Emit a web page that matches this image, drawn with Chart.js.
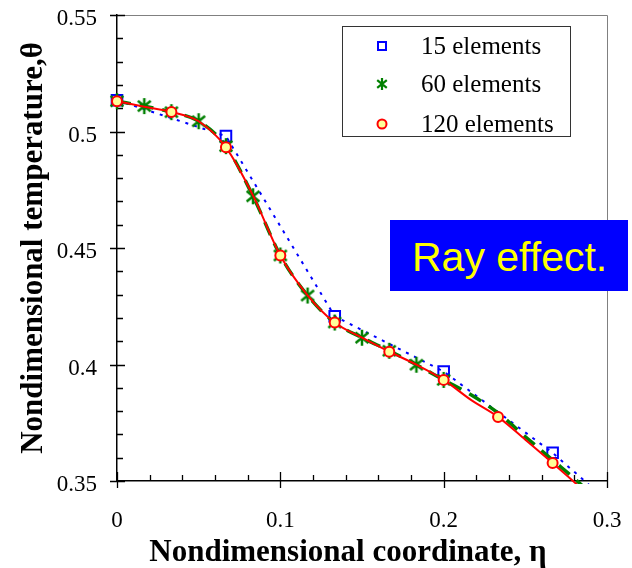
<!DOCTYPE html>
<html>
<head>
<meta charset="utf-8">
<script src="https://cdn.jsdelivr.net/npm/chart.js@4.4.1/dist/chart.umd.min.js"></script>
<style>
  body { margin: 0; background: #fff; }
  #wrap { position: relative; width: 632px; height: 568px; }
  #ray {
    position: absolute; left: 390px; top: 220px; width: 238px; height: 71px;
    box-sizing: border-box; padding: 3px 0 0 22px; line-height: 68px;
    background: #0000ff; color: #ffff00;
    font-family: 'Liberation Sans', Arial, sans-serif; font-size: 41px;
    white-space: nowrap;
  }
</style>
</head>
<body>
<div id="wrap">
  <canvas id="grafico" width="632" height="568"></canvas>
  <div id="ray">Ray effect.</div>
</div>
<script>
// dados
const eta15 = [0, 0.0667, 0.1333, 0.2, 0.2667, 0.3333];
const theta15 = [0.5134, 0.498, 0.4207, 0.397, 0.3621, 0.321];

const eta60 = [0, 0.0167, 0.0333, 0.05, 0.0667, 0.0833, 0.1, 0.1167, 0.1333, 0.15, 0.1667, 0.1833, 0.2, 0.2167, 0.2333, 0.25, 0.2667, 0.2833, 0.3];
const theta60 = [0.513, 0.5109, 0.5083, 0.5044, 0.4937, 0.4722, 0.4468, 0.4296, 0.418, 0.4115, 0.4059, 0.3999, 0.3934, 0.387, 0.3792, 0.369, 0.359, 0.349, 0.3376];

const eta120 = [0, 0.0167, 0.0333, 0.05, 0.0667, 0.0833, 0.1, 0.1167, 0.1333, 0.15, 0.1667, 0.1833, 0.2, 0.2167, 0.2333, 0.25, 0.2667, 0.2833, 0.3];
const theta120 = [0.513, 0.5106, 0.5084, 0.5044, 0.4932, 0.4725, 0.4468, 0.4297, 0.418, 0.4115, 0.4055, 0.3999, 0.3934, 0.3848, 0.3775, 0.3677, 0.3577, 0.3474, 0.336];

const nomes = ['15 elements', '60 elements', '120 elements'];

const xTicks = [0, 0.1, 0.2, 0.3];
const xTickLabels = ['0', '0.1', '0.2', '0.3'];
const yTicks = [0.35, 0.4, 0.45, 0.5, 0.55];
const yTickLabels = ['0.35', '0.4', '0.45', '0.5', '0.55'];

const tituloX = 'Nondimensional coordinate, η';
const tituloY = 'Nondimensional temperature,θ';

const serif = "'Liberation Serif', 'Times New Roman', serif";

// marcador asterisco (verde)
function asterisco(tam, lw) {
  const c = document.createElement('canvas');
  c.width = tam; c.height = tam;
  const g = c.getContext('2d');
  const m = tam / 2, r = tam / 2 - 1;
  g.strokeStyle = '#008000';
  g.lineWidth = lw;
  g.beginPath();
  g.moveTo(m, m - r); g.lineTo(m, m + r);
  g.moveTo(m - r * 0.8, m - r * 0.65); g.lineTo(m + r * 0.8, m + r * 0.65);
  g.moveTo(m - r * 0.8, m + r * 0.65); g.lineTo(m + r * 0.8, m - r * 0.65);
  g.stroke();
  return c;
}
const astGrande = asterisco(18, 2.5);
const astLegenda = asterisco(14, 2.2);

const pontos = (xs, ys) => xs.map((v, i) => ({ x: v, y: ys[i] }));

// moldura cinza + marcas dos eixos + título do eixo x
const moldura = {
  id: 'moldura',
  beforeDatasetsDraw(chart) {
    const { ctx, chartArea: a, scales: { x, y } } = chart;
    ctx.save();
    ctx.strokeStyle = '#808080';
    ctx.lineWidth = 1;
    ctx.beginPath();
    ctx.moveTo(a.left, a.top + 0.5);
    ctx.lineTo(a.right + 0.5, a.top + 0.5);
    ctx.lineTo(a.right + 0.5, a.bottom);
    ctx.stroke();

    ctx.strokeStyle = '#000';
    ctx.lineWidth = 1.3;
    ctx.beginPath();
    for (let i = 0; i <= 15; i++) {
      const px = Math.round(x.getPixelForValue(i * 0.02)) + 0.5;
      if (i % 5 === 0) { ctx.moveTo(px, a.bottom - 9); ctx.lineTo(px, a.bottom + 7); }
      else { ctx.moveTo(px, a.bottom - 6); ctx.lineTo(px, a.bottom); }
    }
    for (let i = 0; i <= 20; i++) {
      const py = Math.round(y.getPixelForValue(0.35 + i * 0.01)) + 0.5;
      if (i % 5 === 0) { ctx.moveTo(a.left - 7, py); ctx.lineTo(a.left + 8, py); }
      else { ctx.moveTo(a.left, py); ctx.lineTo(a.left + 6, py); }
    }
    ctx.stroke();

    // título do eixo x (um pouco à esquerda do centro, como no original)
    ctx.fillStyle = '#000';
    ctx.font = 'bold 31px ' + serif;
    ctx.textAlign = 'center';
    ctx.textBaseline = 'alphabetic';
    ctx.fillText(tituloX, 348, 561);
    ctx.restore();
  }
};

// legenda desenhada dentro da área do gráfico
const legenda = {
  id: 'legenda',
  afterDatasetsDraw(chart) {
    const ctx = chart.ctx;
    const bx = 342, by = 26, bw = 228, bh = 110;
    ctx.save();
    ctx.fillStyle = '#fff';
    ctx.fillRect(bx, by, bw, bh);
    ctx.strokeStyle = '#333';
    ctx.lineWidth = 1;
    ctx.strokeRect(bx + 0.5, by + 0.5, bw, bh);

    const mx = 382;
    const linhas = [46, 84, 124];
    ctx.strokeStyle = '#0000ff';
    ctx.lineWidth = 2;
    ctx.strokeRect(mx - 4, linhas[0] - 4, 8, 8);
    ctx.drawImage(astLegenda, mx - 7, linhas[1] - 7);
    ctx.beginPath();
    ctx.arc(mx, linhas[2], 4.5, 0, Math.PI * 2);
    ctx.fillStyle = '#ffff99';
    ctx.fill();
    ctx.strokeStyle = '#ff0000';
    ctx.stroke();

    ctx.fillStyle = '#000';
    ctx.font = '25px ' + serif;
    ctx.textBaseline = 'middle';
    ctx.textAlign = 'left';
    nomes.forEach((n, i) => ctx.fillText(n, 421, linhas[i] + 1));
    ctx.restore();
  }
};

const ctx = document.getElementById('grafico').getContext('2d');

new Chart(ctx, {
  type: 'line',
  data: {
    datasets: [
      {
        label: nomes[0],
        data: pontos(eta15, theta15),
        borderColor: '#0000ff',
        borderWidth: 2,
        borderDash: [3, 6],
        tension: 0,
        pointStyle: 'rect',
        pointRadius: 7.5,
        pointBorderWidth: 2,
        pointBorderColor: '#0000ff',
        pointBackgroundColor: 'rgba(0,0,0,0)',
        order: 2
      },
      {
        label: nomes[1],
        data: pontos(eta60, theta60),
        borderColor: '#008000',
        borderWidth: 3.5,
        borderDash: [14, 9],
        cubicInterpolationMode: 'monotone',
        pointStyle: astGrande,
        pointRadius: c => (c.dataIndex <= 12 ? 8 : 0),
        order: 1
      },
      {
        label: nomes[2],
        data: pontos(eta120, theta120),
        borderColor: '#ff0000',
        borderWidth: 2,
        cubicInterpolationMode: 'monotone',
        pointStyle: 'circle',
        pointRadius: c => (c.dataIndex % 2 === 0 && c.dataIndex <= 16 ? 5 : 0),
        pointBorderWidth: 2,
        pointBorderColor: '#ff0000',
        pointBackgroundColor: '#ffff99',
        order: 0
      }
    ]
  },
  options: {
    responsive: false,
    animation: false,
    clip: { left: 10, top: 10, right: 0, bottom: 3 },
    layout: { padding: { left: 0, top: 15, right: 25, bottom: 0 } },
    plugins: {
      legend: { display: false },
      tooltip: { enabled: false }
    },
    scales: {
      x: {
        type: 'linear',
        min: 0,
        max: 0.3,
        afterFit: s => { s.height = 87; s.paddingLeft = 0; s.paddingRight = 0; },
        afterBuildTicks: s => { s.ticks = xTicks.map(v => ({ value: v })); },
        grid: { display: false, drawTicks: false },
        border: { display: true, color: '#000', width: 1.5 },
        ticks: {
          padding: 26,
          color: '#000',
          font: { family: serif, size: 23 },
          maxRotation: 0,
          callback: (v, i) => xTickLabels[i]
        }
      },
      y: {
        type: 'linear',
        min: 0.35,
        max: 0.55,
        afterFit: s => { s.width = 117; s.paddingTop = 0; s.paddingBottom = 0; },
        afterBuildTicks: s => { s.ticks = yTicks.map(v => ({ value: v })); },
        grid: { display: false, drawTicks: false },
        border: { display: true, color: '#000', width: 1.5 },
        ticks: {
          padding: 20,
          labelOffset: 4,
          color: '#000',
          font: { family: serif, size: 23 },
          callback: (v, i) => yTickLabels[i]
        },
        title: {
          display: true,
          text: tituloY,
          color: '#000',
          font: { family: serif, size: 31, weight: 'bold', lineHeight: 1 },
          padding: { top: 18, bottom: 0 }
        }
      }
    }
  },
  plugins: [moldura, legenda]
});
</script>
</body>
</html>
